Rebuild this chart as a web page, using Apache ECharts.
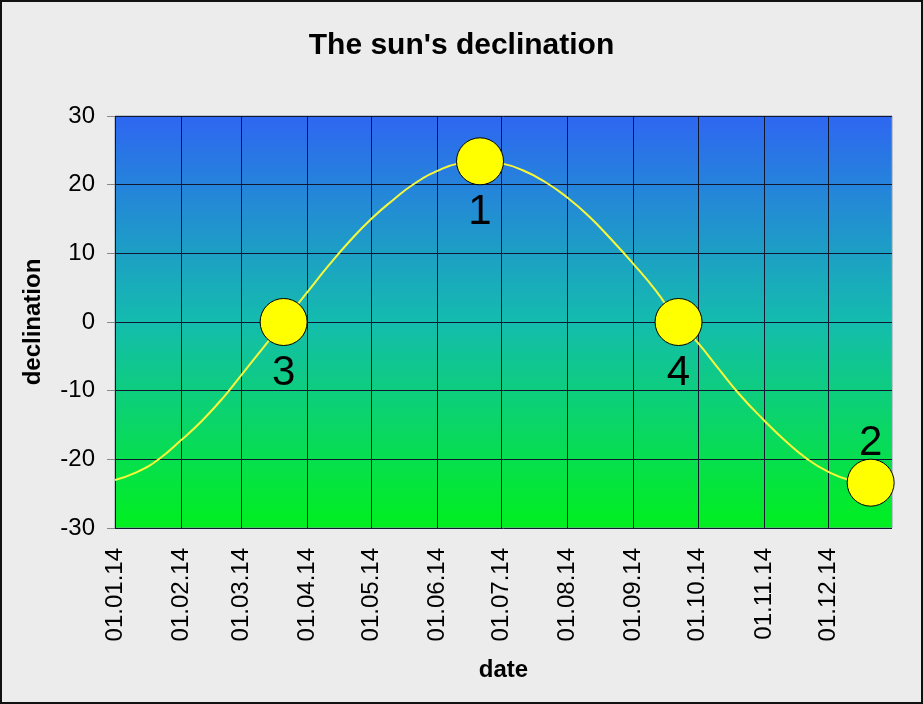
<!DOCTYPE html>
<html>
<head>
<meta charset="utf-8">
<script src="https://cdn.jsdelivr.net/npm/echarts@6/dist/echarts.min.js"></script>
<style>
html,body{margin:0;padding:0;background:#ececec;}
#chart{width:923px;height:704px;}
</style>
</head>
<body>
<div id="chart"></div>
<script>
// Curve readings (date, declination in degrees)
const curveDates = ['01.01.14','11.01.14','21.01.14','01.02.14','11.02.14','21.02.14','01.03.14','11.03.14','21.03.14',
  '01.04.14','11.04.14','21.04.14','01.05.14','11.05.14','21.05.14','01.06.14','11.06.14','21.06.14',
  '01.07.14','11.07.14','21.07.14','01.08.14','11.08.14','21.08.14','01.09.14','11.09.14','22.09.14',
  '01.10.14','11.10.14','21.10.14','01.11.14','11.11.14','21.11.14','01.12.14','11.12.14','21.12.14'];
const curveValues = [-23.0,-21.9,-20.1,-17.2,-14.3,-10.9,-7.8,-3.9,0.0,
  4.3,8.2,11.8,15.0,17.7,20.1,22.0,23.1,23.4,
  23.1,22.1,20.5,18.1,15.4,12.2,8.4,4.7,0.0,
  -3.0,-6.9,-10.7,-14.3,-17.3,-19.9,-21.8,-23.0,-23.4];
// Marked sun positions
const sunDates = ['21.06.14','21.12.14','21.03.14','22.09.14'];
const sunValues = [23.4,-23.4,0,0];
const sunLabels = ['1','2','3','4'];
const sunLabelPos = ['bottom','top','bottom','bottom'];
// Y axis
const yMin = -30, yMax = 30, yStep = 10;

// Day categories of 2014 (dd.mm.yy)
const days = [];
for (let t = Date.UTC(2014,0,1); t <= Date.UTC(2014,11,31); t += 86400000) {
  const d = new Date(t);
  const dd = String(d.getUTCDate()).padStart(2,'0');
  const mm = String(d.getUTCMonth()+1).padStart(2,'0');
  days.push(dd + '.' + mm + '.14');
}
const isMonthStart = (i, v) => String(v != null ? v : days[i]).startsWith('01.');

const chart = echarts.init(document.getElementById('chart'), null, {renderer:'canvas'});
chart.setOption({
  backgroundColor: '#ececec',
  animation: false,
  title: {
    text: "The sun's declination",
    left: 'center',
    top: 26,
    textStyle: {fontFamily:'Arial, Liberation Sans', fontSize:30, fontWeight:'bold', color:'#000'}
  },
  graphic: [{
    type:'rect', silent:true, z:100,
    shape:{x:1,y:1,width:921,height:702},
    style:{fill:null, stroke:'#111', lineWidth:2}
  }],
  grid: {
    left:115, right:31, top:116, bottom:176,
    show:true,
    backgroundColor: {
      type:'linear', x:0, y:0, x2:0, y2:1,
      colorStops:[
        {offset:0, color:'#2e66f2'},
        {offset:0.5, color:'#14bcae'},
        {offset:1, color:'#00f01e'}
      ]
    },
    borderColor:'#8a9aaa', borderWidth:1
  },
  xAxis: {
    type:'category',
    data: days,
    boundaryGap:false,
    name:'date',
    nameLocation:'middle',
    nameGap:130,
    nameTextStyle:{fontFamily:'Arial, Liberation Sans', fontSize:24, fontWeight:'bold', color:'#000'},
    axisLine:{show:false},
    axisTick:{show:false},
    axisLabel:{
      interval: isMonthStart,
      rotate:90,
      margin:20,
      fontFamily:'Arial, Liberation Sans', fontSize:24, color:'#000'
    },
    splitLine:{show:true, interval: isMonthStart, lineStyle:{color:'#101830', width:1}}
  },
  yAxis: {
    type:'value',
    min:yMin, max:yMax, interval:yStep,
    name:'declination',
    nameLocation:'middle',
    nameGap:70,
    nameRotate:90,
    nameTextStyle:{fontFamily:'Arial, Liberation Sans', fontSize:24, fontWeight:'bold', color:'#000'},
    axisLine:{show:false},
    axisTick:{show:true, length:8, lineStyle:{color:'#888'}},
    axisLabel:{margin:20, fontFamily:'Arial, Liberation Sans', fontSize:24, color:'#000'},
    splitLine:{show:true, lineStyle:{color:'#101830', width:1}}
  },
  series: [
    {
      type:'line',
      data: curveDates.map((d,i)=>[d, curveValues[i]]),
      smooth:true,
      showSymbol:false,
      symbol:'none',
      lineStyle:{color:'#f8f83a', width:2},
      z:2
    },
    {
      type:'scatter',
      clip:false,
      symbolSize:47,
      itemStyle:{color:'#ffff00', borderColor:'#000', borderWidth:1, opacity:1},
      data: sunDates.map((d,i)=>({
        value:[d, sunValues[i]],
        label:{
          show:true,
          formatter: sunLabels[i],
          position: sunLabelPos[i],
          distance: sunLabelPos[i]==='top' ? -6 : 6,
          fontFamily:'Arial, Liberation Sans', fontSize:42, color:'#000'
        }
      })),
      z:3
    }
  ]
});
</script>
</body>
</html>
